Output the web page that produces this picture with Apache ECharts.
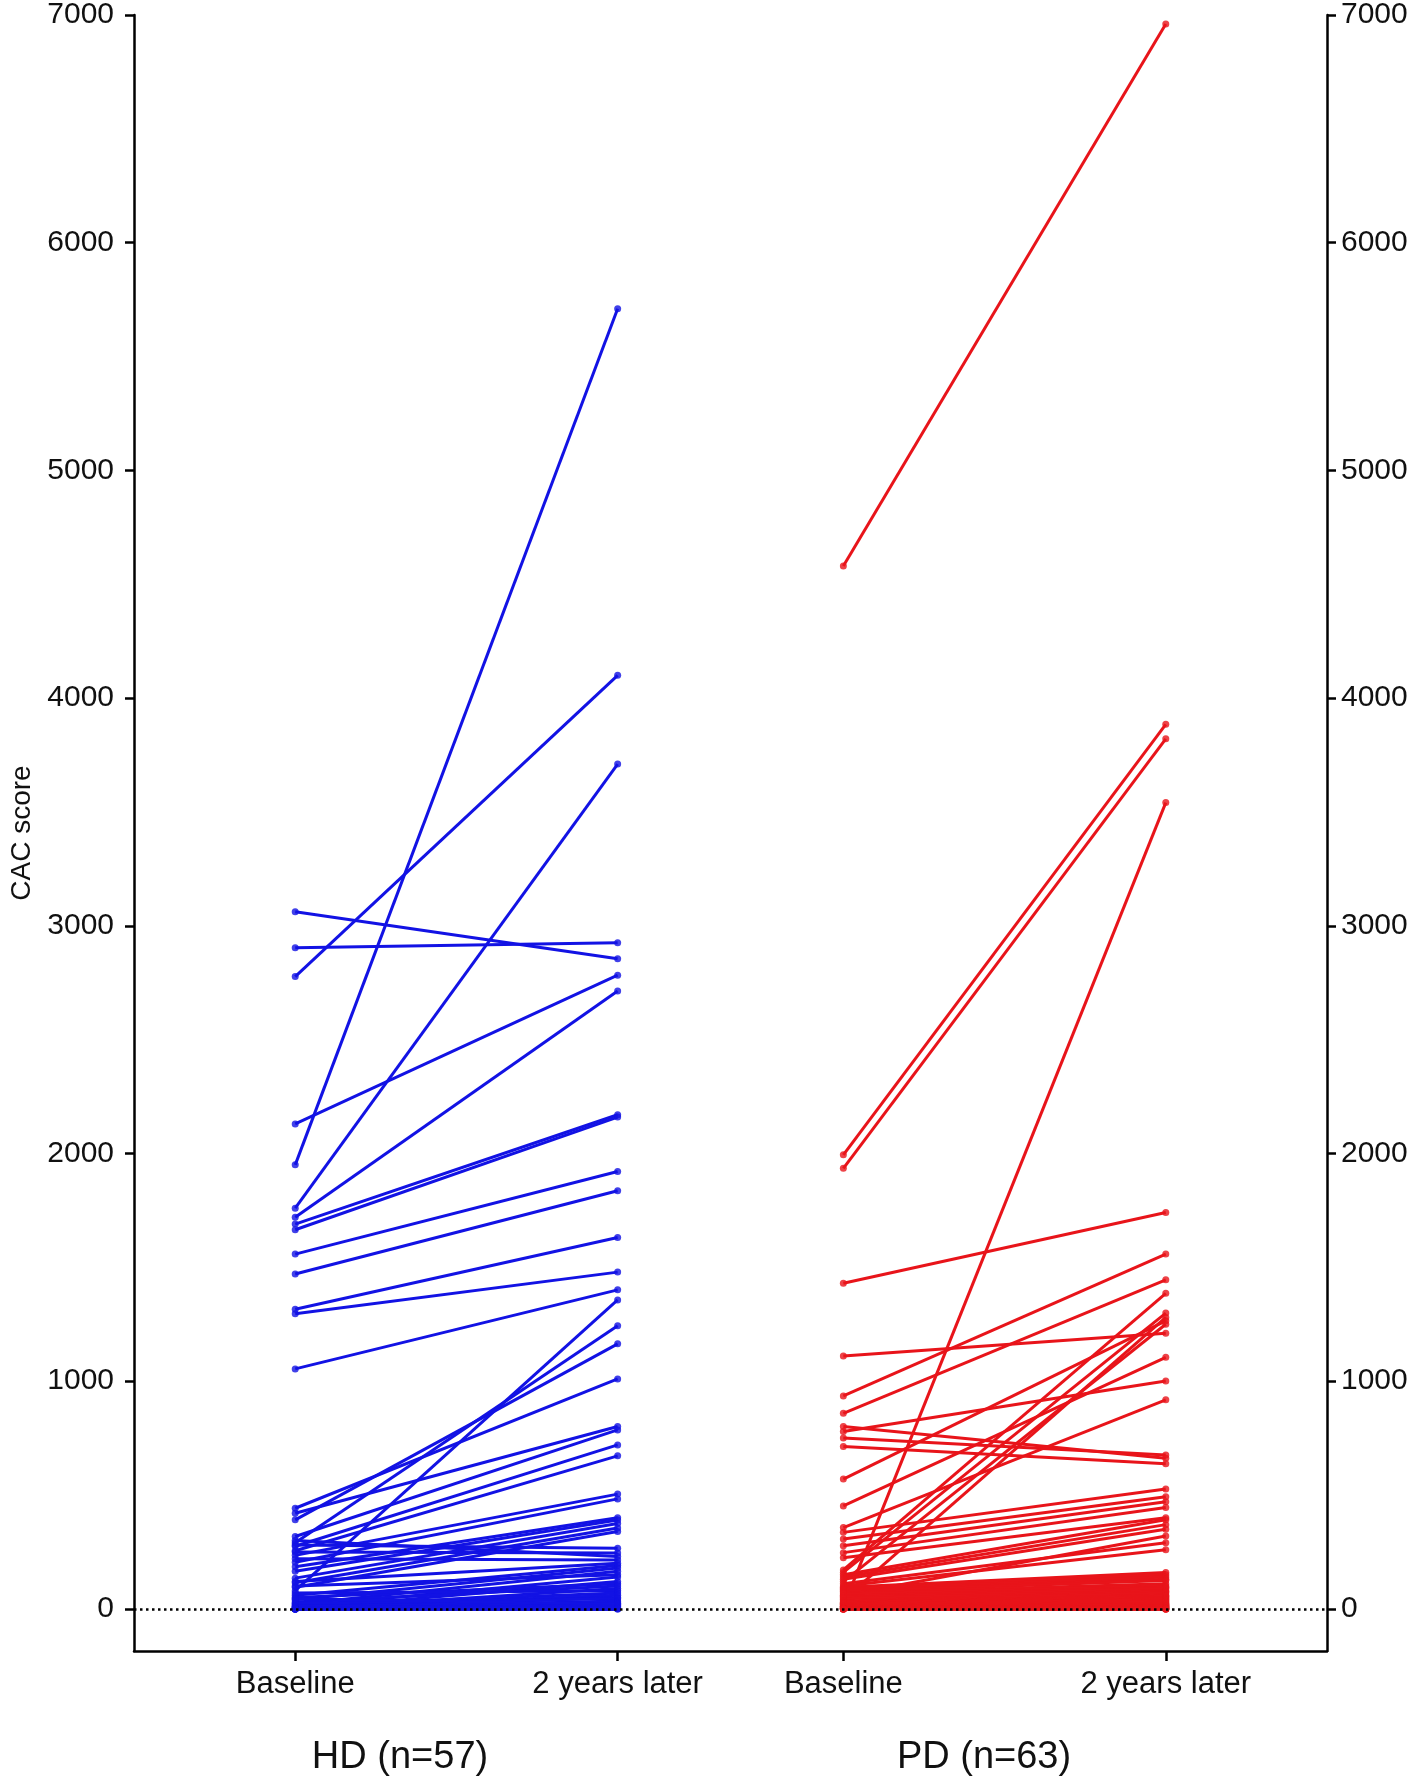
<!DOCTYPE html>
<html>
<head>
<meta charset="utf-8">
<script src="https://cdn.jsdelivr.net/npm/echarts@6/dist/echarts.min.js"></script>
<style>
  html, body { margin: 0; padding: 0; background: #fff; }
  #chart { width: 1418px; height: 1783px; }
</style>
</head>
<body>
<div id="chart"></div>
<script>
// CAC score per patient, baseline vs 2 years later
const hdBaseline = [3062, 2904, 2777, 2130, 1950, 1760, 1720, 1690, 1665, 1558, 1471, 1316, 1296, 1054, 442, 420, 391, 318, 290, 80, 275, 255, 235, 205, 185, 165, 135, 115, 95, 280, 250, 300, 220, 60, 40, 20, 100, 10, 0, 50, 30, 0, 70, 15, 5, 0, 25, 0, 10, 0, 45, 0, 5, 0, 0, 0, 120];
const hdLater = [2855, 2926, 4100, 2783, 5710, 3710, 2714, 2170, 2160, 1921, 1836, 1631, 1479, 1401, 1010, 801, 1164, 786, 1243, 1357, 720, 672, 504, 483, 400, 390, 375, 355, 340, 266, 245, 230, 215, 190, 180, 165, 150, 140, 120, 110, 100, 90, 80, 70, 60, 50, 45, 35, 30, 25, 20, 15, 10, 5, 0, 0, 200];

const pdBaseline = [4580, 1994, 1935, 1430, 1111, 935, 859, 801, 779, 750, 713, 570, 452, 357, 336, 307, 277, 247, 225, 10, 171, 160, 40, 120, 150, 140, 130, 60, 110, 100, 95, 90, 85, 80, 75, 70, 65, 55, 50, 45, 35, 30, 28, 25, 22, 20, 18, 15, 12, 10, 8, 6, 5, 4, 3, 2, 0, 0, 0, 0, 0, 0, 0];
const pdLater = [6960, 3885, 3821, 1741, 1211, 1558, 1445, 662, 1001, 676, 637, 1265, 1105, 918, 526, 492, 470, 445, 400, 3541, 1386, 1299, 1280, 1250, 391, 370, 350, 320, 290, 260, 160, 150, 140, 130, 125, 110, 100, 95, 90, 80, 75, 70, 60, 55, 50, 45, 40, 35, 30, 25, 20, 18, 15, 12, 10, 8, 5, 3, 0, 0, 0, 0, 0];

const timeLabels = ['Baseline', '2 years later', 'Baseline', '2 years later'];
const groupNames = ['HD (n=57)', 'PD (n=63)'];
const yTicks = [0, 1000, 2000, 3000, 4000, 5000, 6000, 7000];

// x slots on the value axis
const xSlots = [0.5, 1.5, 2.2, 3.2];

const BLUE = '#1212e4';
const RED = '#e8141a';
const FONT = '"Liberation Sans", Arial, sans-serif';

function pairLines(base, later, x0, x1) {
  return base.map((b, i) => ({ coords: [[x0, b], [x1, later[i]]] }));
}
function pairDots(base, later, x0, x1) {
  const pts = [];
  base.forEach((b, i) => {
    pts.push([x0, b]);
    pts.push([x1, later[i]]);
  });
  return pts;
}

function yAxisFor(side, margin) {
  return {
    type: 'value',
    position: side,
    min: -185,
    max: 7000,
    axisLine: { show: true, onZero: false, lineStyle: { color: '#000', width: 2.5 } },
    axisTick: { show: true, length: 9, inside: false, customValues: yTicks, lineStyle: { color: '#000', width: 2.5 } },
    axisLabel: { customValues: yTicks, color: '#111', fontSize: 30, fontFamily: FONT, margin: margin, formatter: v => String(v) },
    splitLine: { show: false }
  };
}

const chart = echarts.init(document.getElementById('chart'));
chart.setOption({
  animation: false,
  backgroundColor: '#fff',
  grid: { left: 132, right: 91, top: 15, bottom: 132 },
  xAxis: {
    type: 'value',
    min: 0,
    max: 3.7,
    axisLine: { show: true, onZero: false, lineStyle: { color: '#000', width: 2.5 } },
    axisTick: { show: true, length: 10, customValues: xSlots, lineStyle: { color: '#000', width: 2.5 } },
    axisLabel: {
      customValues: xSlots,
      color: '#111',
      fontSize: 31,
      fontFamily: FONT,
      margin: 18,
      formatter: v => timeLabels[xSlots.indexOf(v)] || ''
    },
    splitLine: { show: false }
  },
  yAxis: [
    Object.assign(yAxisFor('left', 20), {
      name: 'CAC score',
      nameLocation: 'middle',
      nameRotate: 90,
      nameGap: 98,
      nameTextStyle: { color: '#111', fontSize: 28, fontFamily: FONT }
    }),
    yAxisFor('right', 14)
  ],
  graphic: [
    { type: 'text', x: 400, y: 1758, style: { text: groupNames[0], fill: '#111', font: '38px ' + FONT, textAlign: 'center', textVerticalAlign: 'middle' } },
    { type: 'text', x: 984, y: 1758, style: { text: groupNames[1], fill: '#111', font: '38px ' + FONT, textAlign: 'center', textVerticalAlign: 'middle' } }
  ],
  series: [
    {
      type: 'line',
      data: [],
      z: 1,
      silent: true,
      markLine: {
        silent: true,
        symbol: 'none',
        label: { show: false },
        lineStyle: { color: '#000', width: 2.5, type: [2.5, 3.5] },
        data: [{ yAxis: 0 }]
      }
    },
    {
      name: 'HD lines',
      type: 'lines',
      coordinateSystem: 'cartesian2d',
      z: 3,
      lineStyle: { color: BLUE, width: 3, opacity: 1 },
      data: pairLines(hdBaseline, hdLater, xSlots[0], xSlots[1])
    },
    {
      name: 'HD dots',
      type: 'scatter',
      z: 4,
      symbolSize: 7,
      itemStyle: { color: BLUE },
      data: pairDots(hdBaseline, hdLater, xSlots[0], xSlots[1])
    },
    {
      name: 'PD lines',
      type: 'lines',
      coordinateSystem: 'cartesian2d',
      z: 3,
      lineStyle: { color: RED, width: 3, opacity: 1 },
      data: pairLines(pdBaseline, pdLater, xSlots[2], xSlots[3])
    },
    {
      name: 'PD dots',
      type: 'scatter',
      z: 4,
      symbolSize: 7,
      itemStyle: { color: RED },
      data: pairDots(pdBaseline, pdLater, xSlots[2], xSlots[3])
    }
  ]
});
</script>
</body>
</html>
